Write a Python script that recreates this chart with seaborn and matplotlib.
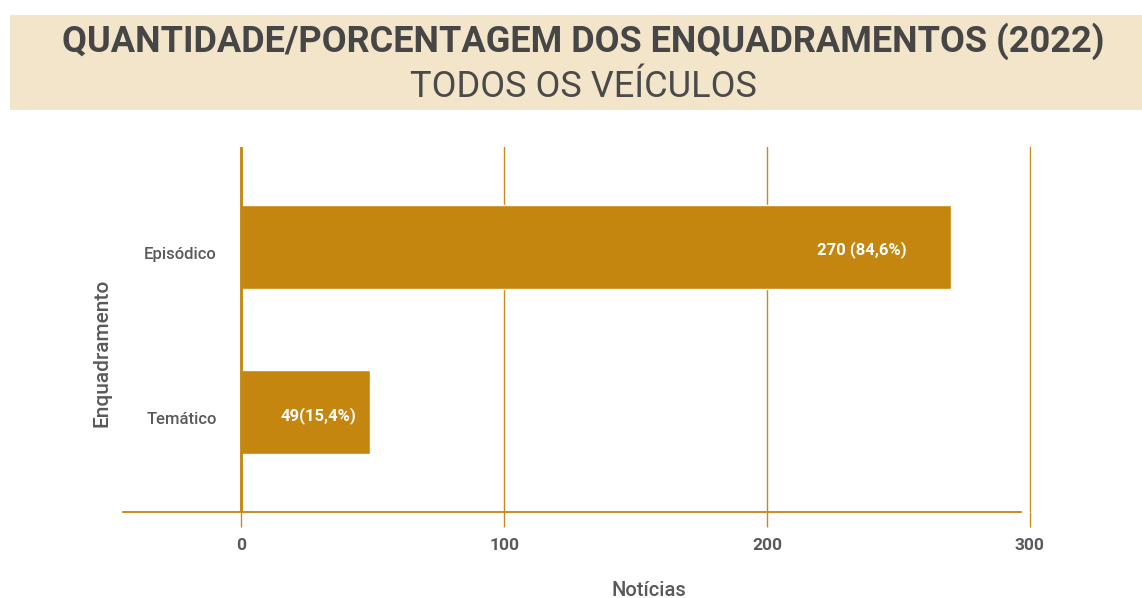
import pandas as pd
import seaborn as sns
import matplotlib.pyplot as plt
import matplotlib.transforms as mtransforms
from matplotlib.patches import Rectangle

# DATA ----------------------------------------------------------------------------
categories = ["Episódico", "Temático"]
counts = [270, 49]
labels = ["270 (84,6%)", "49(15,4%)"]
xticks = [0, 100, 200, 300]

df = pd.DataFrame({"Enquadramento": categories, "Notícias": counts})

# STYLE ---------------------------------------------------------------------------
sns.set_style("white")
plt.rcParams["font.family"] = ["Roboto", "DejaVu Sans"]

gold = "#C4860F"
grid_gold = "#C98A1A"
text_gray = "#595959"

fig = plt.figure(figsize=(11.42, 5.98), dpi=100)

# title banner
fig.patches.append(Rectangle((10 / 1142, 1 - 110 / 598), 1 - 10 / 1142, 95 / 598,
                             transform=fig.transFigure, facecolor="#F2E5C9",
                             edgecolor="none", zorder=0))
fig.text(0.511, 1 - 41 / 598, "QUANTIDADE/PORCENTAGEM DOS ENQUADRAMENTOS (2022)",
         ha="center", va="center", fontsize=26, fontweight="bold", color="#464646")
fig.text(0.511, 1 - 87 / 598, "TODOS OS VEÍCULOS", ha="center", va="center",
         fontsize=26, color="#4a4a4a")

ax = fig.add_axes([123 / 1142, 1 - 512 / 598, 908 / 1142, 365 / 598])

sns.barplot(data=df, y="Enquadramento", x="Notícias", orient="h", color=gold,
            saturation=1, width=0.506, ax=ax, zorder=3)

ax.set_xlim(-45, 300.5)
ax.set_ylim(1.6, -0.6)
ax.set_xticks(xticks)
ax.set_xticklabels([str(t) for t in xticks])

# gridlines and axis line
ax.grid(axis="x", color=grid_gold, linewidth=1, zorder=0)
ax.axvline(0, color=gold, linewidth=2, zorder=4)
for s in ["top", "right", "left"]:
    ax.spines[s].set_visible(False)
ax.spines["bottom"].set_color(gold)
ax.spines["bottom"].set_linewidth(1.3)
ax.spines["bottom"].set_bounds(-45, 296.6)

ax.tick_params(axis="x", bottom=True, length=11, width=1, color=grid_gold, pad=8,
               labelsize=12.5, labelcolor=text_gray)
for t in ax.get_xticklabels():
    t.set_fontweight("bold")
ax.tick_params(axis="y", left=False, length=0, pad=-67.5, labelsize=12,
               labelcolor=text_gray)
shift_down = mtransforms.ScaledTranslation(0, -6 / 100, fig.dpi_scale_trans)
for t in ax.get_yticklabels():
    t.set_fontweight("medium")
    t.set_transform(t.get_transform() + shift_down)

# bar labels
label_pad = [44, 14]
for bar, lab, pad in zip(ax.patches, labels, label_pad):
    ax.annotate(lab, (bar.get_width(), bar.get_y() + bar.get_height() / 2),
                xytext=(-pad * 0.72, -2), textcoords="offset points",
                ha="right", va="center", color="white", fontsize=12,
                fontweight="bold", zorder=5)

ax.set_xlabel("Notícias", fontsize=14.5, color=text_gray, fontweight="medium")
ax.set_ylabel("Enquadramento", fontsize=15, color=text_gray, fontweight="medium")
ax.xaxis.set_label_coords(0.579, -0.188)
ax.yaxis.set_label_coords(-0.013, 0.436)

fig.savefig("out.png", dpi=100)
